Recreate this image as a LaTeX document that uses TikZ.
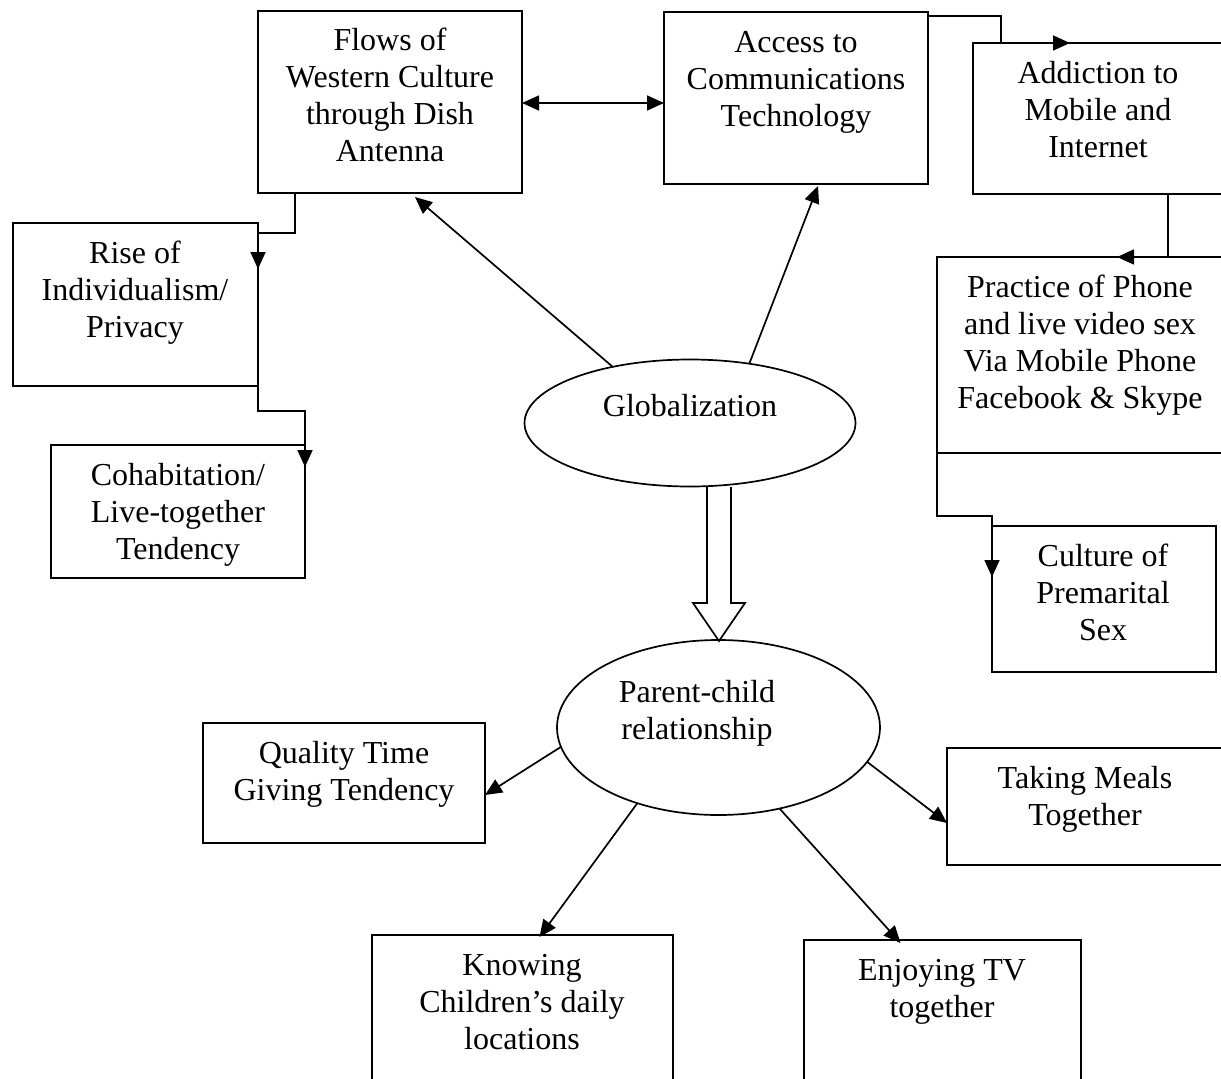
\documentclass[tikz,border=0pt]{standalone}
\usepackage{fontspec}
\setmainfont{Liberation Serif}
\usetikzlibrary{arrows.meta,shapes.geometric}
\begin{document}
\begin{tikzpicture}[x=1pt,y=-1pt,line width=1.7pt,
  box/.style={draw,rectangle,inner sep=0pt,outer sep=0pt},
  oval/.style={draw,ellipse,inner sep=0pt,outer sep=0pt},
  txt/.style={font=\fontsize{32}{37}\selectfont,align=center,anchor=base,inner sep=0pt},
  arr/.style={-{Triangle[length=17pt,width=15pt]}},
  darr/.style={{Triangle[length=17pt,width=15pt]}-{Triangle[length=17pt,width=15pt]}}]
\useasboundingbox (0,0) rectangle (1221,1079);
\clip (0,0) rectangle (1221,1079);
\fill[white] (0,0) rectangle (1221,1079);

% boxes
\node[box,minimum width=264pt,minimum height=182pt] (flows) at (390,102) {};
\node[box,minimum width=264pt,minimum height=172pt] (access) at (796,98) {};
\node[box,minimum width=267pt,minimum height=151pt] (addict) at (1106.5,118.5) {};
\node[box,minimum width=245pt,minimum height=163pt] (rise) at (135.5,304.5) {};
\node[box,minimum width=254pt,minimum height=133pt] (cohab) at (178,511.5) {};
\node[box,minimum width=303pt,minimum height=196pt] (practice) at (1088.5,355) {};
\node[box,minimum width=224pt,minimum height=146pt] (culture) at (1104,599) {};
\node[box,minimum width=282pt,minimum height=120pt] (quality) at (344,783) {};
\node[box,minimum width=293pt,minimum height=117pt] (meals) at (1093.5,806.5) {};
\node[box,minimum width=301pt,minimum height=165pt] (knowing) at (522.5,1017.5) {};
\node[box,minimum width=277pt,minimum height=160pt] (enjoy) at (942.5,1020) {};

% ellipses
\node[oval,minimum width=331pt,minimum height=127pt] (glob) at (690,423) {};
\node[oval,minimum width=323pt,minimum height=175pt] (parent) at (718.5,727.5) {};

% texts (anchor base = baseline of last line)
\node[txt] (flows-t) at (390,161) {Flows of\\Western Culture\\through Dish\\Antenna};
\node[txt] (access-t) at (796,126) {Access to\\Communications\\Technology};
\node[txt] (addict-t) at (1098,157) {Addiction to\\Mobile and\\Internet};
\node[txt] (rise-t) at (135,337) {Rise of\\Individualism/\\Privacy};
\node[txt] (cohab-t) at (178,559) {Cohabitation/\\Live-together\\Tendency};
\node[txt] (practice-t) at (1080,408) {Practice of Phone\\and live video sex\\Via Mobile Phone\\Facebook \& Skype};
\node[txt] (culture-t) at (1103,640) {Culture of\\Premarital\\Sex};
\node[txt] (quality-t) at (344,800) {Quality Time\\Giving Tendency};
\node[txt] (meals-t) at (1085,825) {Taking Meals\\Together};
\node[txt] (knowing-t) at (522,1049) {Knowing\\Children’s daily\\locations};
\node[txt] (enjoy-t) at (942,1017) {Enjoying TV\\together};
\node[txt] (glob-t) at (690,416) {Globalization};
\node[txt] (parent-t) at (697,739) {Parent-child\\relationship};

% connectors
\draw[darr] ([yshift=-1pt]flows.east) -- ([yshift=-1pt]flows.east -| access.west);
\draw[arr] (glob.144.5) -- ([xshift=25pt,yshift=-4pt]flows.south);
\draw[arr] (glob.45.5) -- ([xshift=22pt,yshift=-2pt]access.south);
\draw[arr] ([xshift=-95pt]flows.south) |- ([yshift=-10pt]rise.north east) -- ([yshift=-46pt]rise.north east);
\draw[arr] ([yshift=33pt]rise.south east) -- ([yshift=-25pt]rise.south east) -| ([yshift=-22pt]cohab.north east);
\draw[arr] ([yshift=-4pt]access.north east) -| ([xshift=28pt]addict.north west) -- ([xshift=97pt]addict.north west);
\draw[arr] (addict.south east) -- ([xshift=195pt]addict.south west) |- ([xshift=180pt]practice.north west);
\draw[arr] (practice.south west) -- ([yshift=-63pt]practice.south west) -| ([yshift=-51pt]culture.north west);

% hollow arrow
\draw[fill=white] (707,487) -- (707,603) -- (693,603) -- (719,641) -- (745,603) -- (731,603) -- (731,487);

% parent-child arrows
\draw[arr] (parent.187.3) -- ([yshift=-12pt]quality.east);
\draw[arr] (parent.-13) -- ([yshift=-16.5pt]meals.west);
\draw[arr] (parent.223.9) -- ([xshift=17pt,yshift=-2pt]knowing.north);
\draw[arr] (parent.-53.7) -- ([xshift=-42pt,yshift=-3pt]enjoy.north);
\end{tikzpicture}
\end{document}
